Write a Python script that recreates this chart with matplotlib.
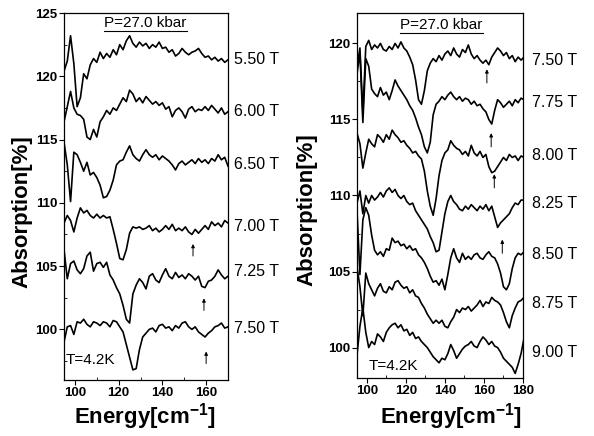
import numpy as np
import matplotlib.pyplot as plt
from matplotlib.ticker import MultipleLocator

plt.rcParams['font.family'] = ['Liberation Sans', 'DejaVu Sans']
plt.rcParams['mathtext.fontset'] = 'custom'
plt.rcParams['mathtext.rm'] = 'Liberation Sans'
plt.rcParams['mathtext.bf'] = 'Liberation Sans:bold'

# ---- left panel data (P = 27.0 kbar) ----
energy_left = np.arange(95, 170.1, 1.5)
labels_left = ['5.50 T', '6.00 T', '6.50 T', '7.00 T', '7.25 T', '7.50 T']
label_y_left = [121.3, 117.2, 113.0, 108.1, 104.6, 100.1]

abs_550 = [120.4, 121.2, 123.2, 121.0, 117.6, 118.3, 120.2, 119.8, 120.9, 121.4,
           121.1, 121.9, 121.4, 121.8, 121.5, 122.1, 121.7, 122.5, 122.1, 122.8,
           123.2, 122.6, 122.3, 122.7, 122.4, 122.6, 122.2, 122.5, 122.3, 122.7,
           122.2, 122.3, 121.9, 122.1, 121.6, 121.8, 122.2, 121.9, 121.7, 121.9,
           122.0, 122.2, 121.8, 121.5, 121.6, 121.3, 121.5, 121.2, 121.4, 121.1,
           121.3]
abs_600 = [116.4, 117.6, 118.8, 117.5, 117.0, 116.9, 116.6, 115.2, 115.0, 115.8,
           115.2, 116.4, 116.8, 117.3, 117.0, 117.5, 117.3, 117.8, 118.3, 118.0,
           118.9, 118.6, 118.0, 118.3, 117.9, 118.4, 118.1, 117.8, 118.0, 117.7,
           117.9, 117.4, 117.6, 116.8, 117.3, 117.5, 117.2, 116.7, 117.4, 117.6,
           117.2, 117.4, 117.3, 117.6, 117.3, 117.7, 117.4, 117.1, 117.5, 117.0,
           117.2]
abs_650 = [114.8, 113.0, 110.1, 114.0, 113.8, 113.2, 112.5, 113.2, 112.2, 112.4,
           112.0, 111.4, 110.4, 110.5, 111.0, 111.8, 113.0, 113.3, 113.4, 114.0,
           114.5, 113.8, 113.5, 113.3, 113.8, 114.2, 113.8, 113.6, 113.8, 113.4,
           113.7, 113.5, 113.3, 113.0, 112.6, 113.1, 113.3, 113.0, 113.2, 113.4,
           113.1, 113.5, 113.2, 113.4, 113.1, 113.5, 113.3, 113.8, 113.4, 113.6,
           112.9]
abs_700 = [108.4, 109.0, 108.6, 107.7, 108.8, 109.6, 109.2, 109.4, 109.0, 108.8,
           109.1, 108.8, 109.0, 108.8, 108.9, 107.9, 106.8, 105.6, 105.5, 106.3,
           107.6, 108.1, 108.0, 108.1, 107.9, 108.0, 108.2, 107.8, 108.0, 107.7,
           107.9, 108.2, 107.9, 108.3, 107.8, 108.0, 107.8, 108.1, 107.7, 107.5,
           107.9, 107.6, 107.9, 108.2, 107.9, 108.5, 108.2, 108.4, 108.1, 108.6,
           108.4]
abs_725 = [106.3, 104.0, 105.2, 105.4, 104.7, 104.4, 104.8, 105.8, 106.1, 104.6,
           105.2, 105.3, 104.9, 105.3, 104.3, 103.9, 103.3, 102.8, 101.9, 100.8,
           100.5, 102.8, 103.5, 104.0, 103.7, 103.2, 104.2, 104.4, 103.9, 103.7,
           104.3, 104.8, 104.2, 104.0, 104.5, 104.1, 104.3, 104.0, 104.4, 104.2,
           103.9, 104.2, 103.4, 103.3, 103.8, 103.9, 104.2, 104.7, 104.3, 104.0,
           104.2]
abs_750 = [99.0, 100.2, 100.3, 99.6, 100.6, 100.5, 100.8, 100.4, 100.2, 100.6,
           100.5, 100.3, 100.6, 100.5, 100.2, 100.7, 100.6, 100.2, 99.8, 98.8,
           97.8, 96.8, 96.9, 98.4, 99.4, 99.7, 100.0, 100.1, 99.8, 100.3,
           100.4, 100.1, 100.2, 99.9, 100.3, 100.1, 100.5, 100.6, 100.2, 100.0,
           100.2, 99.8, 99.6, 99.4, 99.7, 99.9, 100.2, 100.3, 100.5, 100.1,
           100.2]
arrow_x_left = [154.0, 159.0, 160.0]
arrow_y_left = [105.8, 101.5, 97.3]

# ---- right panel data ----
energy_right = np.arange(95, 180.6, 1.5)
labels_right = ['7.50 T', '7.75 T', '8.00 T', '8.25 T', '8.50 T', '8.75 T', '9.00 T']
label_y_right = [118.9, 116.1, 112.6, 109.5, 106.1, 102.9, 99.7]

abs_r750 = [118.4, 119.7, 115.4, 119.8, 120.2, 119.6, 119.9, 119.7, 120.0, 119.6,
            119.5, 119.8, 119.6, 120.0, 119.7, 120.1, 119.7, 119.5, 119.1, 118.6,
            117.6, 116.3, 116.0, 116.9, 118.2, 118.7, 119.0, 118.8, 119.2, 118.9,
            119.3, 119.5, 119.2, 119.7, 119.3, 119.1, 119.6, 119.4, 119.9, 119.3,
            119.0, 119.2, 118.9, 118.7, 118.9, 118.6, 119.1, 119.4, 119.7, 119.5,
            119.2, 119.4, 119.0, 119.2, 118.8, 119.1, 118.9, 119.1]
abs_r775 = [118.0, 119.4, 114.8, 119.0, 118.5, 117.0, 116.7, 116.5, 117.1, 116.6,
            116.8, 116.3, 116.9, 117.6, 117.2, 116.9, 116.6, 116.3, 115.9, 115.6,
            115.1, 114.5, 114.0, 113.2, 112.8, 113.5, 115.3, 116.0, 116.2, 116.5,
            116.3, 116.6, 116.8, 116.5, 116.3, 116.5, 116.2, 116.4, 116.3, 116.0,
            116.2, 115.9, 116.0, 115.7, 115.5, 115.0, 114.7, 115.6, 116.3, 116.1,
            115.8, 116.0, 116.2, 115.9, 116.3, 116.1, 116.4, 116.3]
abs_r800 = [114.1, 113.4, 111.8, 112.8, 113.7, 113.4, 113.2, 114.0, 113.8, 113.5,
            114.0, 113.7, 114.3, 114.0, 113.8, 113.5, 113.6, 113.3, 113.1, 112.8,
            112.9, 112.6, 112.4, 111.6, 110.3, 109.3, 108.7, 109.8, 111.3, 112.3,
            112.8, 113.0, 113.6, 113.3, 113.1, 113.0, 112.7, 112.9, 112.6, 113.3,
            112.8, 112.6, 112.9, 112.5, 112.7, 111.9, 111.5, 111.6, 111.9, 112.2,
            112.5, 112.3, 112.7, 112.5, 112.6, 112.3, 112.6, 112.5]
abs_r825 = [109.5, 110.3, 108.8, 110.0, 109.5, 110.0, 109.7, 109.9, 110.2, 109.9,
            110.3, 110.5, 110.2, 110.4, 110.0, 109.8, 110.0, 109.6, 109.4, 109.5,
            109.0, 108.7, 108.4, 108.1, 107.8, 107.3, 106.9, 106.3, 106.4, 107.6,
            108.8, 109.6, 110.0, 109.6, 109.4, 109.1, 109.0, 109.3, 109.1, 109.4,
            109.2, 109.0, 109.3, 109.1, 109.4, 109.0, 109.3, 108.6, 107.9, 108.2,
            108.4, 108.6, 108.8, 109.2, 109.5, 109.4, 109.7, 109.7]
abs_r850 = [109.0, 104.8, 108.4, 109.2, 108.7, 107.4, 106.4, 106.1, 106.3, 106.0,
            106.5, 106.4, 107.2, 106.9, 107.0, 106.7, 106.8, 106.5, 106.7, 106.4,
            106.5, 106.1, 105.9, 105.6, 105.2, 104.7, 104.3, 104.4, 104.1, 104.5,
            103.8, 104.8, 105.9, 106.5, 105.9, 105.6, 106.2, 105.8, 106.0, 105.8,
            106.1, 106.2, 105.9, 105.8, 106.1, 106.3, 106.0, 105.9, 105.5, 104.9,
            104.0, 103.8, 104.2, 105.2, 105.9, 106.2, 106.1, 106.3]
abs_r875 = [105.3, 104.0, 102.1, 104.9, 104.2, 103.8, 103.4, 103.9, 104.2, 103.7,
            103.6, 104.0, 103.8, 104.3, 104.4, 104.1, 103.9, 104.0, 103.6, 103.8,
            103.4, 103.3, 102.9, 102.6, 102.2, 101.9, 101.6, 101.8, 101.6, 101.8,
            101.4, 101.3, 101.7, 102.0, 102.5, 102.3, 102.6, 102.5, 102.7, 102.4,
            102.6, 102.8, 103.1, 102.7, 103.0, 102.9, 103.3, 103.1, 103.0, 102.8,
            102.3, 101.7, 101.3, 102.1, 102.6, 103.0, 103.1, 103.3]
abs_r900 = [99.5, 101.4, 102.6, 101.0, 100.0, 100.4, 100.2, 100.9, 100.7, 100.4,
            101.0, 101.3, 101.5, 101.6, 101.3, 101.5, 101.1, 101.2, 100.8, 101.0,
            100.6, 100.7, 100.4, 100.2, 100.0, 99.7, 99.4, 99.2, 99.0, 99.3,
            99.2, 99.6, 100.2, 99.8, 99.3, 99.6, 99.9, 100.1, 100.2, 100.4,
            100.1, 100.0, 100.4, 100.7, 100.5, 100.2, 100.4, 100.1, 100.0, 99.7,
            99.3, 99.1, 98.9, 98.7, 98.3, 98.9, 99.6, 100.6]
arrow_x_right = [161.5, 163.7, 165.3, 169.4]
arrow_y_right = [117.4, 113.2, 110.5, 106.2]


def style_axes(ax, xlim, ylim, xmajor, ymajor):
    ax.set_xlim(*xlim)
    ax.set_ylim(*ylim)
    ax.xaxis.set_major_locator(MultipleLocator(xmajor))
    ax.yaxis.set_major_locator(MultipleLocator(ymajor))
    ax.xaxis.set_minor_locator(MultipleLocator(xmajor / 2))
    ax.yaxis.set_minor_locator(MultipleLocator(ymajor / 2))
    ax.tick_params(which='major', direction='out', length=3.5, width=0.8, pad=1.5,
                   labelsize=9.5)
    ax.tick_params(which='minor', direction='in', length=2, width=0.6)
    for lab in ax.get_xticklabels() + ax.get_yticklabels():
        lab.set_fontweight('bold')
    for sp in ax.spines.values():
        sp.set_linewidth(0.9)


def draw_arrows(ax, xs, ys, length):
    for x, y in zip(xs, ys):
        ax.annotate('', xy=(x, y + length), xytext=(x, y),
                    arrowprops=dict(arrowstyle='-|>', lw=0.7, color='black',
                                    mutation_scale=5, shrinkA=0, shrinkB=0))


fig = plt.figure(figsize=(5.94, 4.36), dpi=100)
ax1 = fig.add_axes([64 / 594, 1 - 380 / 436, 164 / 594, 367 / 436])
ax2 = fig.add_axes([357 / 594, 1 - 378 / 436, 166 / 594, 365 / 436])

for trace in [abs_550, abs_600, abs_650, abs_700, abs_725, abs_750]:
    ax1.plot(energy_left, trace, color='black', lw=1.2)
for trace in [abs_r750, abs_r775, abs_r800, abs_r825, abs_r850, abs_r875, abs_r900]:
    ax2.plot(energy_right, trace, color='black', lw=1.2)

style_axes(ax1, (95, 170), (96, 125), 20, 5)
style_axes(ax2, (95, 180), (98, 122), 20, 5)

for lab, y in zip(labels_left, label_y_left):
    ax1.text(172.7, y, lab, fontsize=11.5, va='center', ha='left', clip_on=False)
for lab, y in zip(labels_right, label_y_right):
    ax2.text(184.7, y, lab, fontsize=11.5, va='center', ha='left', clip_on=False)

draw_arrows(ax1, arrow_x_left, arrow_y_left, 0.95)
draw_arrows(ax2, arrow_x_right, arrow_y_right, 0.9)

ax1.text(95.9, 97.6, 'T=4.2K', fontsize=11, va='center', ha='left')
ax2.text(101.0, 98.8, 'T=4.2K', fontsize=11, va='center', ha='left')

titles = [ax1.text(0.497, 0.972, 'P=27.0 kbar', transform=ax1.transAxes,
                   fontsize=11, ha='center', va='center'),
          ax2.text(0.509, 0.967, 'P=27.0 kbar', transform=ax2.transAxes,
                   fontsize=11, ha='center', va='center')]

fig.text(22 / 594, 1 - 212 / 436, 'Absorption[%]', rotation=90, fontsize=16,
         fontweight='bold', ha='center', va='center')
fig.text(307 / 594, 1 - 210 / 436, 'Absorption[%]', rotation=90, fontsize=16,
         fontweight='bold', ha='center', va='center')
fig.text(145 / 594, 1 - 417 / 436, r'Energy[cm$^{\mathbf{-1}}$]', fontsize=16,
         fontweight='bold', ha='center', va='center')
fig.text(451 / 594, 1 - 417 / 436, r'Energy[cm$^{\mathbf{-1}}$]', fontsize=16,
         fontweight='bold', ha='center', va='center')

# underline the pressure labels
renderer = fig.canvas.get_renderer()
for t in titles:
    bb = t.get_window_extent(renderer)
    fx0, fx1 = bb.x0 / fig.bbox.width, bb.x1 / fig.bbox.width
    fy = (bb.y0 - 0.5) / fig.bbox.height
    fig.add_artist(plt.Line2D([fx0, fx1], [fy, fy], color='black', lw=0.8))

fig.savefig('out.png', dpi=100)
